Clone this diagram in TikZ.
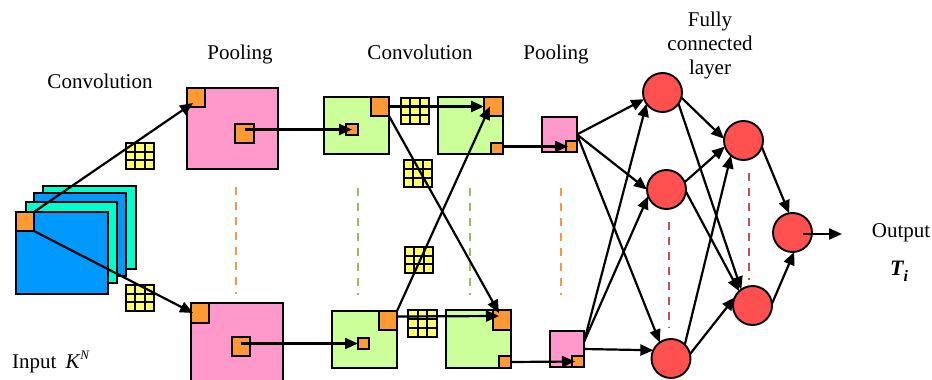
\documentclass[tikz,border=0pt]{standalone}
\usepackage{fontspec}
\setmainfont{Liberation Serif}
\usetikzlibrary{arrows.meta,calc}

\definecolor{cBlue}{HTML}{0099FF}
\definecolor{cTeal}{HTML}{00FFCC}
\definecolor{cOrange}{HTML}{FF9933}
\definecolor{cPink}{HTML}{FF99CC}
\definecolor{cGreen}{HTML}{CCFF99}
\definecolor{cYellow}{HTML}{FFFF66}
\definecolor{cRed}{HTML}{FF5050}
\definecolor{dOrange}{HTML}{F79646}
\definecolor{dGreen}{HTML}{9BBB59}
\definecolor{dRed}{HTML}{C0504D}

\tikzset{
  box/.style={draw=black, line width=1.9pt, inner sep=0pt, outer sep=0pt},
  bluebox/.style={box, fill=cBlue},
  tealbox/.style={box, fill=cTeal},
  orangebox/.style={box, fill=cOrange},
  pinkbox/.style={box, fill=cPink},
  greenbox/.style={box, fill=cGreen},
  kbox/.style={box, fill=cYellow, line width=1.7pt},
  kline/.style={line width=1.7pt},
  neuron/.style={circle, draw=black, line width=1.9pt, fill=cRed,
                 minimum size=39pt, inner sep=0pt, outer sep=0pt},
  link/.style={line width=2.2pt, -{Triangle[length=13pt,width=11pt]}},
  sep/.style={line width=2.4pt, dash pattern=on 8pt off 7pt},
  lbl/.style={font=\fontsize{21}{24}\selectfont, inner sep=0pt, anchor=base},
}

% rectangle node from its two corners: style, name, x1, y1, x2, y2
\newcommand\bx[6]{\node[#1, minimum width={#5pt-#3pt}, minimum height={#6pt-#4pt}]
  (#2) at ({(#3+#5)/2},{(#4+#6)/2}) {};}

% 3x3 filter kernel: name, x1, y1, x2, y2
\newcommand\kgrid[5]{\bx{kbox}{#1}{#2}{#3}{#4}{#5}
  \foreach \fr in {0.3333,0.6667}{
    \draw[kline] ($(#1.north west)!\fr!(#1.north east)$) -- ($(#1.south west)!\fr!(#1.south east)$);
    \draw[kline] ($(#1.north west)!\fr!(#1.south west)$) -- ($(#1.north east)!\fr!(#1.south east)$);}}

\begin{document}
\begin{tikzpicture}[x=1pt,y=-1pt]
\clip (0,0) rectangle (932,380);

% ---- labels ----
\node[lbl] (tConvA) at (100,88) {Convolution};
\node[lbl] (tPoolA) at (240,59) {Pooling};
\node[lbl] (tConvB) at (420,59) {Convolution};
\node[lbl] (tPoolB) at (556,59) {Pooling};
\node[lbl] (tFC1) at (710,27) {Fully};
\node[lbl] (tFC2) at (710,50.5) {connected};
\node[lbl] (tFC3) at (710,74) {layer};
\node[lbl] (tOut) at (901,237) {Output};
\node[lbl] (tT) at (899,275) {{\fontsize{22}{24}\selectfont\bfseries\itshape T}\raisebox{-6pt}{\fontsize{16}{16}\selectfont\bfseries\itshape i}};
\node[lbl, anchor=base west] (tIn) at (12,368)
  {Input\hspace{9pt}\textit{K}\raisebox{9pt}{\fontsize{13}{13}\selectfont\itshape N}};

% ---- dashed separators ----
\coordinate (sA1) at (236,187); \coordinate (sA2) at (236,294);
\coordinate (sB1) at (358,188); \coordinate (sB2) at (358,295);
\coordinate (sC1) at (470,188); \coordinate (sC2) at (470,295);
\coordinate (sD1) at (561,188); \coordinate (sD2) at (561,295);
\coordinate (sE1) at (669,222); \coordinate (sE2) at (669,328);
\coordinate (sF1) at (749,173); \coordinate (sF2) at (749,280);
\draw[sep, dOrange] (sA1) -- (sA2);
\draw[sep, dGreen]  (sB1) -- (sB2);
\draw[sep, dGreen]  (sC1) -- (sC2);
\draw[sep, dOrange] (sD1) -- (sD2);
\draw[sep, dRed]    (sE1) -- (sE2);
\draw[sep, dRed]    (sF1) -- (sF2);

% ---- input stack ----
\bx{tealbox}{in1}{43}{186}{136}{269}
\bx{bluebox}{in2}{34}{193}{126}{276}
\bx{tealbox}{in3}{26}{202}{117}{283}
\bx{bluebox}{in4}{16}{212}{108}{294}
\bx{orangebox}{inK}{16}{212}{34}{231}

% ---- first pooling maps ----
\bx{pinkbox}{p1}{187}{88}{278}{169}
\bx{orangebox}{p1c}{187}{88}{205}{107}
\bx{orangebox}{p1m}{235}{124}{254}{143}
\bx{pinkbox}{p2}{191}{303}{283}{386}
\bx{orangebox}{p2c}{191}{303}{209}{323}
\bx{orangebox}{p2m}{232}{337}{250}{356}

% ---- second convolution maps ----
\bx{greenbox}{c1}{324}{97}{389}{154}
\bx{orangebox}{c1c}{371}{97}{389}{116}
\bx{orangebox}{c1m}{346}{124}{358}{135}
\bx{greenbox}{c2}{332}{311}{397}{368}
\bx{orangebox}{c2c}{379}{311}{397}{330}
\bx{orangebox}{c2m}{358}{338}{369}{349}

\bx{greenbox}{d1}{438}{97}{503}{154}
\bx{orangebox}{d1c}{484}{97}{503}{116}
\bx{orangebox}{d1s}{491}{143}{503}{154}
\bx{greenbox}{d2}{446}{310}{511}{368}
\bx{orangebox}{d2c}{493}{310}{511}{330}
\bx{orangebox}{d2s}{499}{356}{511}{368}

% ---- second pooling maps ----
\bx{pinkbox}{q1}{542}{117}{577}{152}
\bx{orangebox}{q1s}{566}{141}{577}{152}
\bx{pinkbox}{q2}{550}{331}{584}{367}
\bx{orangebox}{q2s}{572}{356}{584}{367}

% ---- kernels ----
\kgrid{k1}{126}{143}{154}{169}
\kgrid{k2}{126}{285}{154}{311}
\kgrid{k3}{401}{98}{429}{124}
\kgrid{k4}{404}{160}{432}{187}
\kgrid{k5}{405}{247}{433}{273}
\kgrid{k6}{408}{310}{437}{337}

% ---- fully connected neurons ----
\node[neuron] (n1) at (662.5,92.5) {};
\node[neuron] (n2) at (666.5,189.5) {};
\node[neuron] (n3) at (671,358.5) {};
\node[neuron] (m1) at (743.5,140.5) {};
\node[neuron] (m2) at (752.5,305.5) {};
\node[neuron] (o)  at (792.5,232.5) {};
\coordinate (outp) at (842,234);

% ---- connections: feature maps ----
\draw[link] (inK.north east) -- ($(p1c.south west)+(6,-4)$);
\draw[link] (inK.south east) -- ($(p2c.west)+(2,0)$);
\draw[link] (p1m.center |- c1m.center) -- (c1m.center);
\draw[link] (p2m.center |- c2m.center) -- (c2m.west);
\draw[link] (c1c.east) -- (d1c.west);
\draw[link] (c1c.south east) -- ($(d2c.north)+(-3,3)$);
\draw[link] (c2c.north east) -- ($(d1c.west)+(6,0)$);
\draw[link] ($(c2c.east)+(0,-4)$) -- ($(d2c.west)+(6,-4)$);
\draw[link] (d1s.east |- q1s.center) -- ($(q1s.west)+(2,0)$);
\draw[link] (d2s.east) -- ($(q2s.west)+(3,0)$);

% ---- connections: fully connected part ----
\coordinate (q2o) at ($(q2.north east)!0.3!(q2.south east)$);
\draw[link] (q1.east) -- (n1.200);
\draw[link] (q1.east) -- (n2.west);
\draw[link] (q1.east) -- (n3.125);
\draw[link] (q2o) -- (n1.215);
\draw[link] (q2o) -- (n2.200);
\draw[link] (q2.east) -- (n3.155);

\draw[link] (n1.-15) -- (m1.175);
\draw[link] (n1.-35) -- (m2.125);
\draw[link] (n2.22)  -- (m1.198);
\draw[link] (n2.-6)  -- (m2.133);
\draw[link] (n3.45)  -- (m1.230);
\draw[link] (n3.13)  -- (m2.155);

\draw[link] (m1.-20) -- (o.100);
\draw[link] (m2.5)   -- (o.-85);
\draw[link] ($(o.center)+(10,1.5)$) -- (outp);
\end{tikzpicture}
\end{document}
